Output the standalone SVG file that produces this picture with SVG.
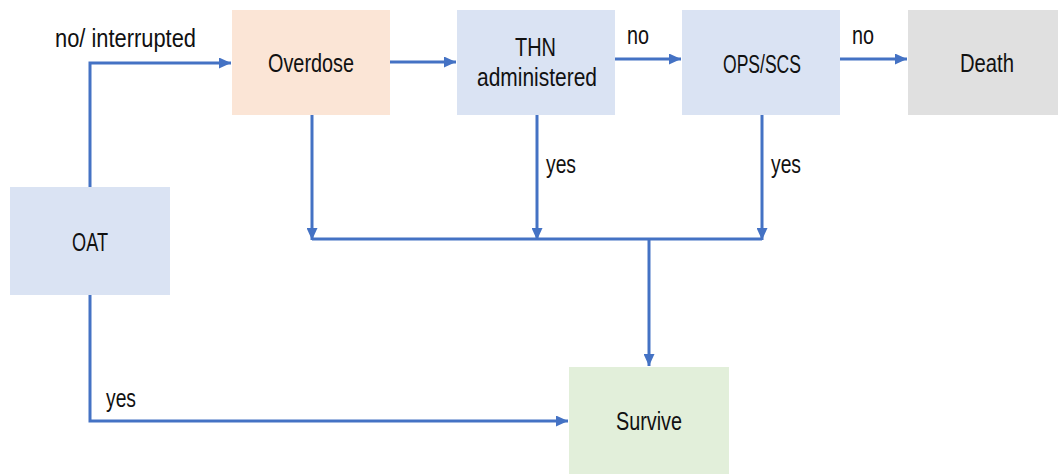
<svg xmlns="http://www.w3.org/2000/svg" width="1058" height="474" viewBox="0 0 1058 474">
<style>
.t{font-family:"Liberation Sans",Arial,sans-serif;font-size:25px;fill:#111;}
.ln{fill:none;stroke:#4472C4;stroke-width:3;}
.a{marker-end:url(#ah);}
</style>
<defs>
<marker id="ah" markerUnits="userSpaceOnUse" markerWidth="13" markerHeight="11" refX="12" refY="5.5" orient="auto">
<path d="M0,0 L12,5.5 L0,11 z" fill="#4472C4"/>
</marker>
</defs>
<rect width="1058" height="474" fill="#fff"/>
<g id="connectors">
<path class="ln a" d="M90,187 V63 H231"/>
<path class="ln a" d="M390,62 H456"/>
<path class="ln a" d="M615,59 H681"/>
<path class="ln a" d="M840,59 H907"/>
<path class="ln a" d="M312,115 V240"/>
<path class="ln a" d="M537,115 V240"/>
<path class="ln a" d="M762,115 V240"/>
<path class="ln" d="M312,239 H762"/>
<path class="ln a" d="M649,239 V366"/>
<path class="ln a" d="M90,295 V421 H568"/>
<text class="t" x="55" y="47" textLength="141" lengthAdjust="spacingAndGlyphs">no/ interrupted</text>
<text class="t" x="627" y="44" textLength="22" lengthAdjust="spacingAndGlyphs">no</text>
<text class="t" x="852" y="44" textLength="22" lengthAdjust="spacingAndGlyphs">no</text>
<text class="t" x="546" y="173" textLength="30" lengthAdjust="spacingAndGlyphs">yes</text>
<text class="t" x="771" y="173" textLength="30" lengthAdjust="spacingAndGlyphs">yes</text>
<text class="t" x="106" y="407" textLength="30" lengthAdjust="spacingAndGlyphs">yes</text>
</g>
<g id="overdose">
<rect x="232" y="10" width="158" height="105" fill="#FBE5D6"/>
<text class="t" x="268" y="72" textLength="86" lengthAdjust="spacingAndGlyphs">Overdose</text>
</g>
<g id="thn">
<rect x="457" y="10" width="158" height="105" fill="#DAE3F3"/>
<text class="t" x="515" y="56" textLength="41" lengthAdjust="spacingAndGlyphs">THN</text>
<text class="t" x="477" y="86" textLength="120" lengthAdjust="spacingAndGlyphs">administered</text>
</g>
<g id="ops">
<rect x="682" y="10" width="158" height="105" fill="#DAE3F3"/>
<text class="t" x="723" y="73" textLength="78" lengthAdjust="spacingAndGlyphs">OPS/SCS</text>
</g>
<g id="death">
<rect x="908" y="10" width="150" height="105" fill="#E0E0E0"/>
<text class="t" x="960" y="72" textLength="54" lengthAdjust="spacingAndGlyphs">Death</text>
</g>
<g id="oat">
<rect x="10" y="187" width="160" height="108" fill="#DAE3F3"/>
<text class="t" x="72" y="251" textLength="36" lengthAdjust="spacingAndGlyphs">OAT</text>
</g>
<g id="survive">
<rect x="569" y="367" width="160" height="107" fill="#E2EFDA"/>
<text class="t" x="616" y="430" textLength="66" lengthAdjust="spacingAndGlyphs">Survive</text>
</g>
</svg>
